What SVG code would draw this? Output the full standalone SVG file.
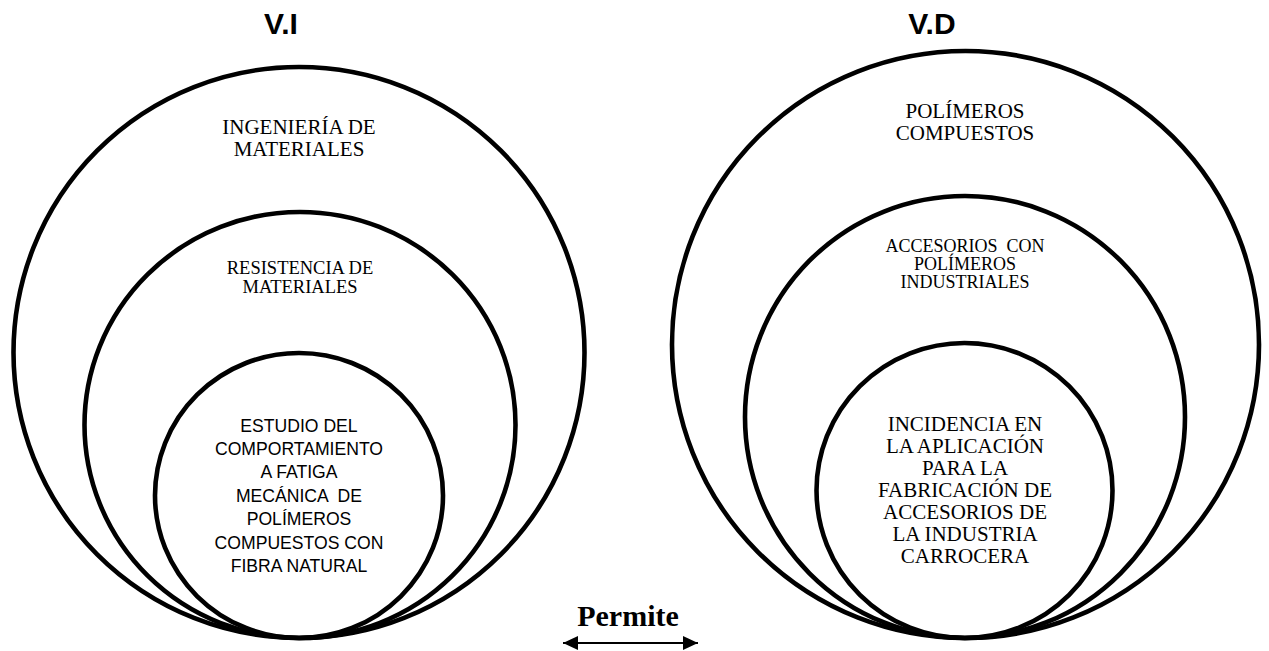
<svg xmlns="http://www.w3.org/2000/svg" width="1269" height="651" viewBox="0 0 1269 651">
<style>
.c{fill:none;stroke:#000;stroke-width:4.6}
.t{font-family:"Liberation Serif","Times New Roman",serif;fill:#000;text-anchor:middle}
.s{font-family:"Liberation Sans",Arial,sans-serif;fill:#000;text-anchor:middle;font-size:17.6px}
.h{font-family:"Liberation Sans",Arial,sans-serif;font-weight:bold;fill:#000;text-anchor:middle;font-size:30px}
</style>
<defs>
<marker id="ah" viewBox="0 0 15 14" refX="15" refY="7" markerWidth="15" markerHeight="14" markerUnits="userSpaceOnUse" orient="auto-start-reverse">
<path d="M0,0 L15,7 L0,14 Z" fill="#000"/>
</marker>
</defs>
<rect width="1269" height="651" fill="#fff"/>
<g id="title-vi"><text class="h" x="281" y="34">V.I</text></g>
<g id="title-vd"><text class="h" x="932" y="34">V.D</text></g>
<g id="vi-outer">
<ellipse class="c" cx="299" cy="352.5" rx="285.5" ry="285.5"/>
<text class="t" font-size="21" x="299" y="134">INGENIERÍA DE</text>
<text class="t" font-size="21" x="299" y="156">MATERIALES</text>
</g>
<g id="vi-middle">
<ellipse class="c" cx="300" cy="425" rx="215.5" ry="213"/>
<text class="t" font-size="18.5" x="300" y="274">RESISTENCIA DE</text>
<text class="t" font-size="18.5" x="300" y="293">MATERIALES</text>
</g>
<g id="vi-inner">
<ellipse class="c" cx="299" cy="495.5" rx="144" ry="142.5"/>
<text class="s" x="299" y="432">ESTUDIO DEL</text>
<text class="s" x="299" y="455">COMPORTAMIENTO</text>
<text class="s" x="299" y="478">A FATIGA</text>
<text class="s" x="299" y="502" xml:space="preserve">MECÁNICA  DE</text>
<text class="s" x="299" y="525">POLÍMEROS</text>
<text class="s" x="299" y="549">COMPUESTOS CON</text>
<text class="s" x="299" y="572">FIBRA NATURAL</text>
</g>
<g id="vd-outer">
<ellipse class="c" cx="965.5" cy="344.5" rx="293.5" ry="293.5"/>
<text class="t" font-size="21" x="965" y="118">POLÍMEROS</text>
<text class="t" font-size="21" x="965" y="140">COMPUESTOS</text>
</g>
<g id="vd-middle">
<ellipse class="c" cx="965" cy="417" rx="220" ry="221"/>
<text class="t" font-size="18" x="965" y="252" xml:space="preserve">ACCESORIOS  CON</text>
<text class="t" font-size="18" x="965" y="270">POLÍMEROS</text>
<text class="t" font-size="18" x="965" y="288">INDUSTRIALES</text>
</g>
<g id="vd-inner">
<ellipse class="c" cx="964.5" cy="490.5" rx="148" ry="147.5"/>
<text class="t" font-size="21" x="965" y="431">INCIDENCIA EN</text>
<text class="t" font-size="21" x="965" y="453">LA APLICACIÓN</text>
<text class="t" font-size="21" x="965" y="475">PARA LA</text>
<text class="t" font-size="21" x="965" y="497">FABRICACIÓN DE</text>
<text class="t" font-size="21" x="965" y="519">ACCESORIOS DE</text>
<text class="t" font-size="21" x="965" y="541">LA INDUSTRIA</text>
<text class="t" font-size="21" x="965" y="563">CARROCERA</text>
</g>
<g id="connectors">
<line x1="563" y1="643" x2="698" y2="643" stroke="#000" stroke-width="2" marker-start="url(#ah)" marker-end="url(#ah)"/>
<text class="t" font-size="30" font-weight="bold" x="628" y="626">Permite</text>
</g>
</svg>
